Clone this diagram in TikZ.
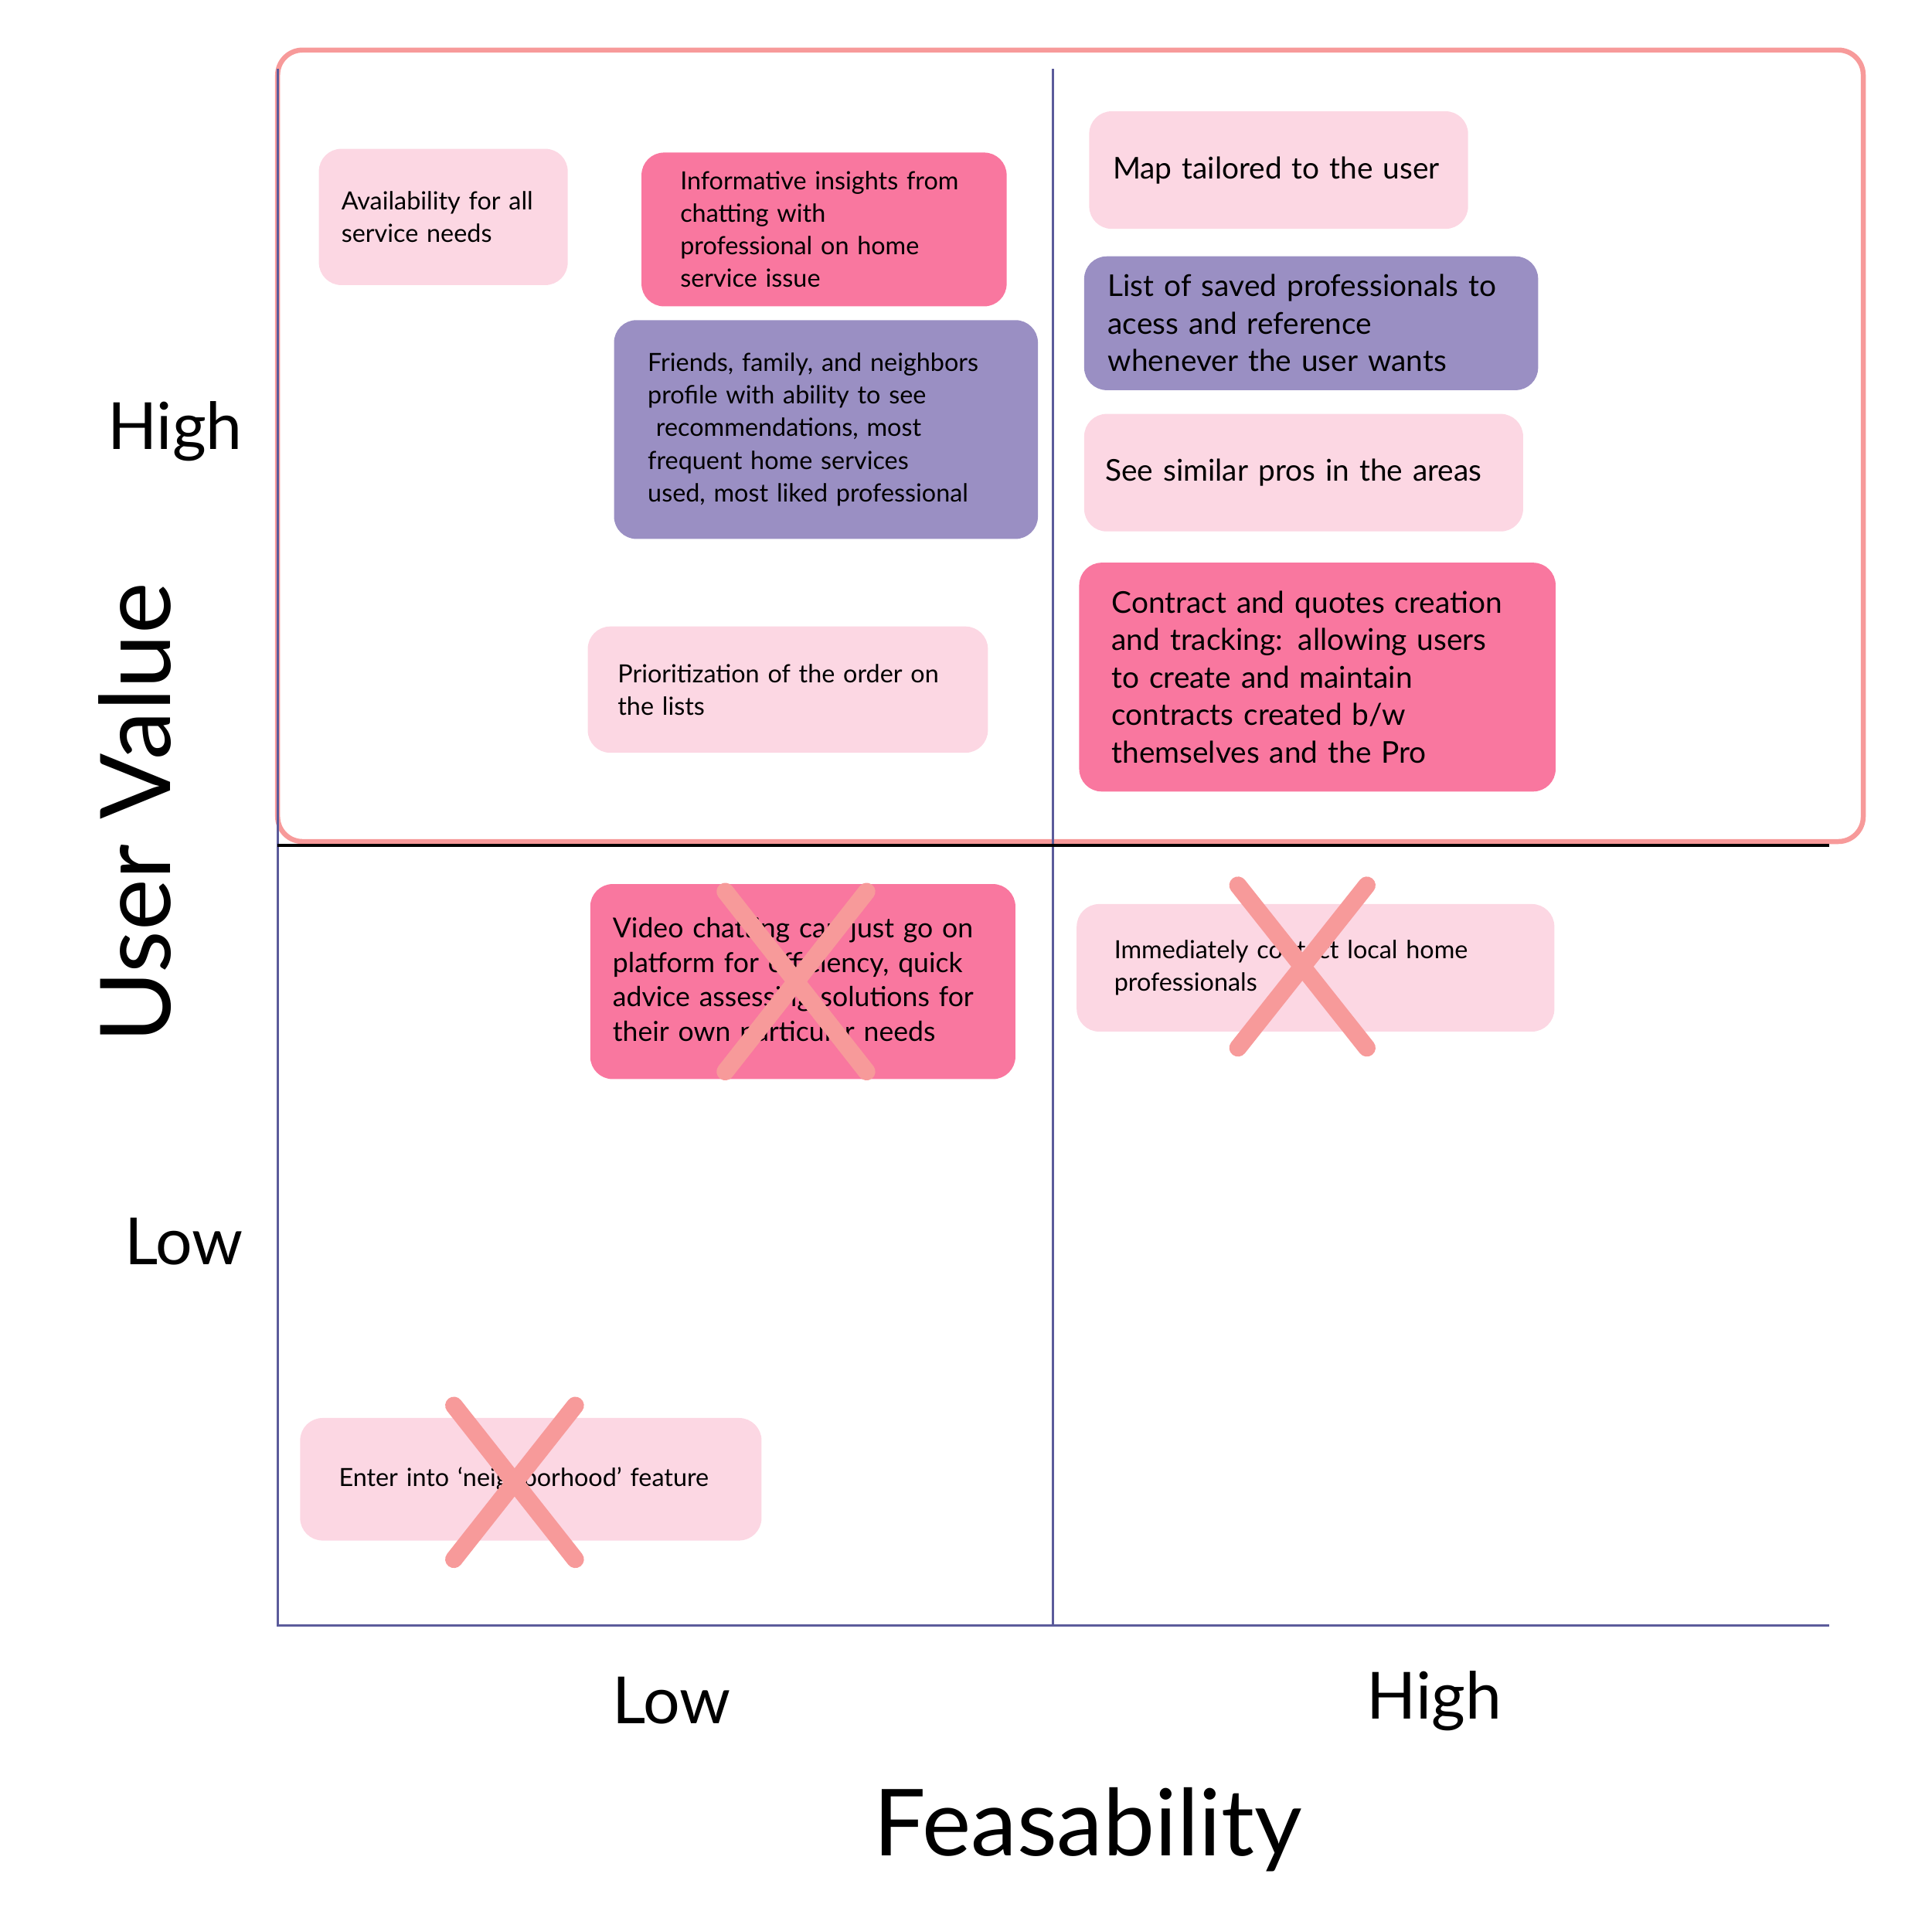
\documentclass[tikz,border=0pt]{standalone}
\usepackage{fontspec}
\setmainfont{Lato}
\definecolor{lp}{HTML}{FCD7E3}
\definecolor{dp}{HTML}{F9779F}
\definecolor{pu}{HTML}{9A8FC3}
\definecolor{fr}{HTML}{F79A9A}
\definecolor{ax}{HTML}{5B5B9B}
\tikzset{
 box/.style={rounded corners=9pt,inner sep=0pt,align=left,text=black},
 lbox/.style={box,fill=lp},
 dbox/.style={box,fill=dp},
 pbox/.style={box,fill=pu},
 sm/.style={font=\fontsize{10}{13}\selectfont},
 lg/.style={font=\fontsize{12}{15}\selectfont},
 md/.style={font=\fontsize{11}{13.75}\selectfont},
 axl/.style={font=\fontsize{26}{30}\selectfont},
 cross/.style={draw=fr,line width=7pt,line cap=round},
 axis/.style={draw=ax,line width=1pt}
}
\begin{document}
\begin{tikzpicture}[x=0.5pt,y=-0.5pt]
\useasboundingbox (0,0) rectangle (1545,1528);
\draw[draw=fr,line width=2pt,rounded corners=10pt] (222,40) rectangle (1490,673);
\coordinate (vt) at (842,55); \coordinate (vb) at (842,1300);
\coordinate (lt) at (222,55); \coordinate (lb) at (222,1300);
\coordinate (br) at (1463,1300); \coordinate (ml) at (222,676); \coordinate (mr) at (1463,676);
\draw[axis] (lt)--(lb)--(br);
\draw[axis] (vt)--(vb);
\draw[line width=1pt] (ml)--(mr);
\node[axl] (hy) at (140,345) {High};
\node[axl] (ly) at (147,993) {Low};
\node[font=\fontsize{39}{42}\selectfont,rotate=90] (uv) at (108,650) {User Value};
\node[axl] (lx) at (537,1360) {Low};
\node[axl] (hx) at (1147,1360) {High};
\node[font=\fontsize{37}{40}\selectfont] (fe) at (870,1463) {Feasability};
\node[lbox,sm,minimum width=99.5pt,minimum height=54.5pt,text width=81.5pt] (b1) at (354.5,173.5) {Availability for all\\service needs};
\node[dbox,sm,minimum width=146pt,minimum height=61.5pt,text width=115pt] (b2) at (659,183.5) {Informative insights from\\chatting with\\professional on home\\service issue};
\node[pbox,sm,minimum width=169.5pt,minimum height=87.5pt,text width=142.5pt] (b3) at (660.5,343.5) {Friends, family, and neighbors\\profile with ability to see\\\ recommendations, most\\frequent home services\\used, most liked professional};
\node[lbox,sm,minimum width=160pt,minimum height=50.5pt,text width=136pt] (b4) at (630,551.5) {Prioritization of the order on\\the lists};
\node[lbox,lg,minimum width=151.5pt,minimum height=47pt,text width=132.5pt] (b5) at (1022.5,136) {Map tailored to the user};
\node[pbox,lg,minimum width=181.5pt,minimum height=53.5pt,text width=162.5pt] (b6) at (1048.5,258.5) {List of saved professionals to\\acess and reference\\whenever the user wants};
\node[lbox,lg,minimum width=175.5pt,minimum height=47pt,text width=158.5pt] (b7) at (1042.5,378) {See similar pros in the areas};
\node[dbox,lg,minimum width=190.5pt,minimum height=91.5pt,text width=164.5pt] (b8) at (1053.5,541.5) {Contract and quotes creation\\and tracking: allowing users\\to create and maintain\\contracts created b/w\\themselves and the Pro};
\node[dbox,md,minimum width=170pt,minimum height=78pt,text width=152pt] (b9) at (642,785) {Video chatting can just go on\\platform for efficiency, quick\\advice assessing solutions for\\their own particular needs};
\node[lbox,sm,minimum width=191pt,minimum height=51pt,text width=161pt] (b10) at (1052,774) {Immediately contact local home\\professionals};
\node[lbox,sm,minimum width=184.5pt,minimum height=49pt,text width=153.5pt] (b11) at (424.5,1183) {Enter into ‘neighborhood’ feature};
\coordinate (c1a) at (580,713); \coordinate (c1b) at (693,857); \coordinate (c1c) at (693,713); \coordinate (c1d) at (580,857);
\coordinate (c2a) at (990,708); \coordinate (c2b) at (1093,838); \coordinate (c2c) at (1093,708); \coordinate (c2d) at (990,838);
\coordinate (c3a) at (363,1124); \coordinate (c3b) at (460,1247); \coordinate (c3c) at (460,1124); \coordinate (c3d) at (363,1247);
\draw[cross] (c1a)--(c1b) (c1c)--(c1d);
\draw[cross] (c2a)--(c2b) (c2c)--(c2d);
\draw[cross] (c3a)--(c3b) (c3c)--(c3d);
\end{tikzpicture}
\end{document}
